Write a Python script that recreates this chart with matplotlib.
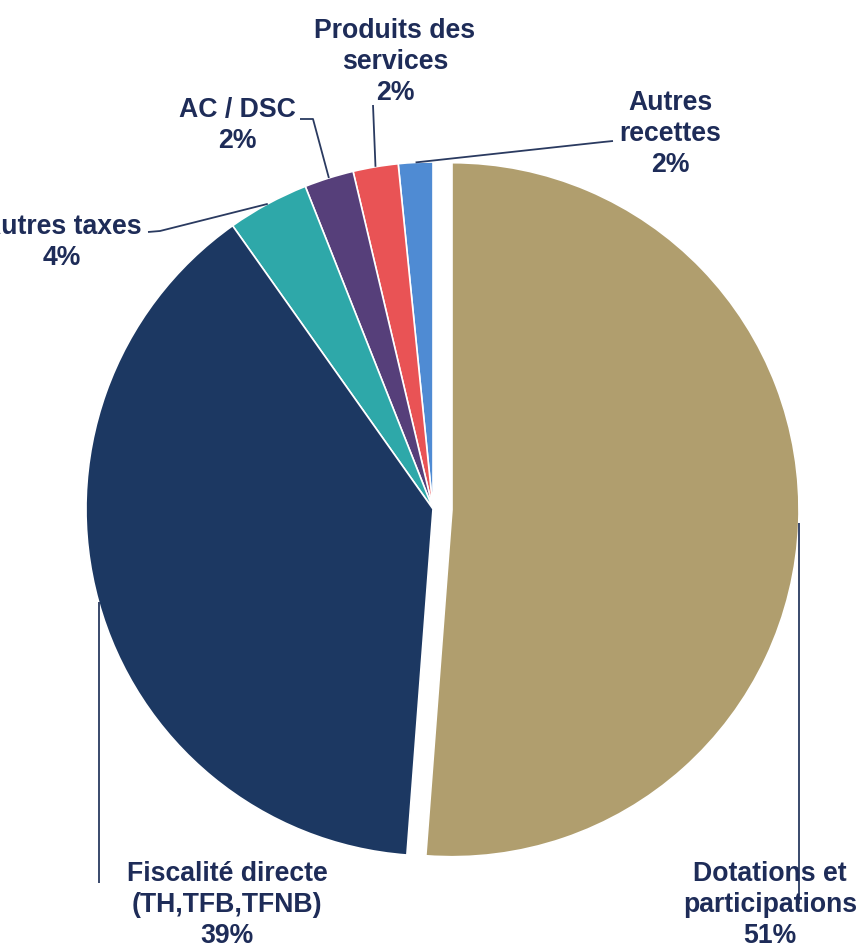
import matplotlib.pyplot as plt
import numpy as np

plt.rcParams['font.family'] = ['Liberation Sans', 'DejaVu Sans']

# recettes de fonctionnement (en %)
labels = ['Autres\nrecettes', 'Produits des\nservices', 'AC / DSC', 'Autres taxes',
          'Fiscalité directe\n(TH,TFB,TFNB)', 'Dotations et\nparticipations']
values = [1.6, 2.1, 2.3, 3.8, 39.0, 51.2]
colors = ['#4F8BD3', '#E95355', '#563F7A', '#2EA8A9', '#1C3862', '#B09E6E']

txt_col = '#1E2C58'
line_col = '#2A3A60'

W, H = 856, 945
fig = plt.figure(figsize=(W / 100, H / 100), dpi=100)
ax = fig.add_axes([0, 0, 1, 1])

cx, cy, r = 433, H - 510, 347
# explode is in data units here (pixels), only the big slice is pulled out
explode = [0, 0, 0, 0, 0, 19]
wedges, _ = ax.pie(values, colors=colors, explode=explode, startangle=90,
                   counterclock=True, center=(cx, cy), radius=r,
                   wedgeprops=dict(edgecolor='white', linewidth=1.2))
ax.set_xlim(0, W)
ax.set_ylim(0, H)
ax.set_aspect('equal')
ax.axis('off')

# anchor of each leader line: middle of the wedge's outer arc
def anchor(w):
    a = np.deg2rad((w.theta1 + w.theta2) / 2)
    x0, y0 = w.center
    return x0 + w.r * np.cos(a), y0 + w.r * np.sin(a)

# leader line path (after anchor) and label position, in pixel coords (y down)
# x=None keeps the line vertical
layout = [
    ([(603, 143), (613, 142)], (670, 134)),
    ([(373, 106)], (395, 62)),
    ([(313, 120), (300, 120)], (237, 126)),
    ([(160, 232), (148, 233)], (62, 243)),
    ([(None, 884)], (227, 905)),
    ([(None, 905)], (770, 905)),
]

fs = 19.2
for w, lab, v, (path, (tx, ty)) in zip(wedges, labels, values, layout):
    ax0, ay0 = anchor(w)
    xs = [ax0] + [ax0 if p[0] is None else p[0] for p in path]
    ys = [ay0] + [H - p[1] for p in path]
    ax.plot(xs, ys, color=line_col, lw=1.3, solid_capstyle='butt', zorder=1)
    ax.text(tx, H - ty, f'{lab}\n{v:.0f}%', ha='center', va='center',
            fontsize=fs, fontweight='bold', color=txt_col, linespacing=1.25,
            zorder=3)

fig.savefig('out.png', dpi=100)
